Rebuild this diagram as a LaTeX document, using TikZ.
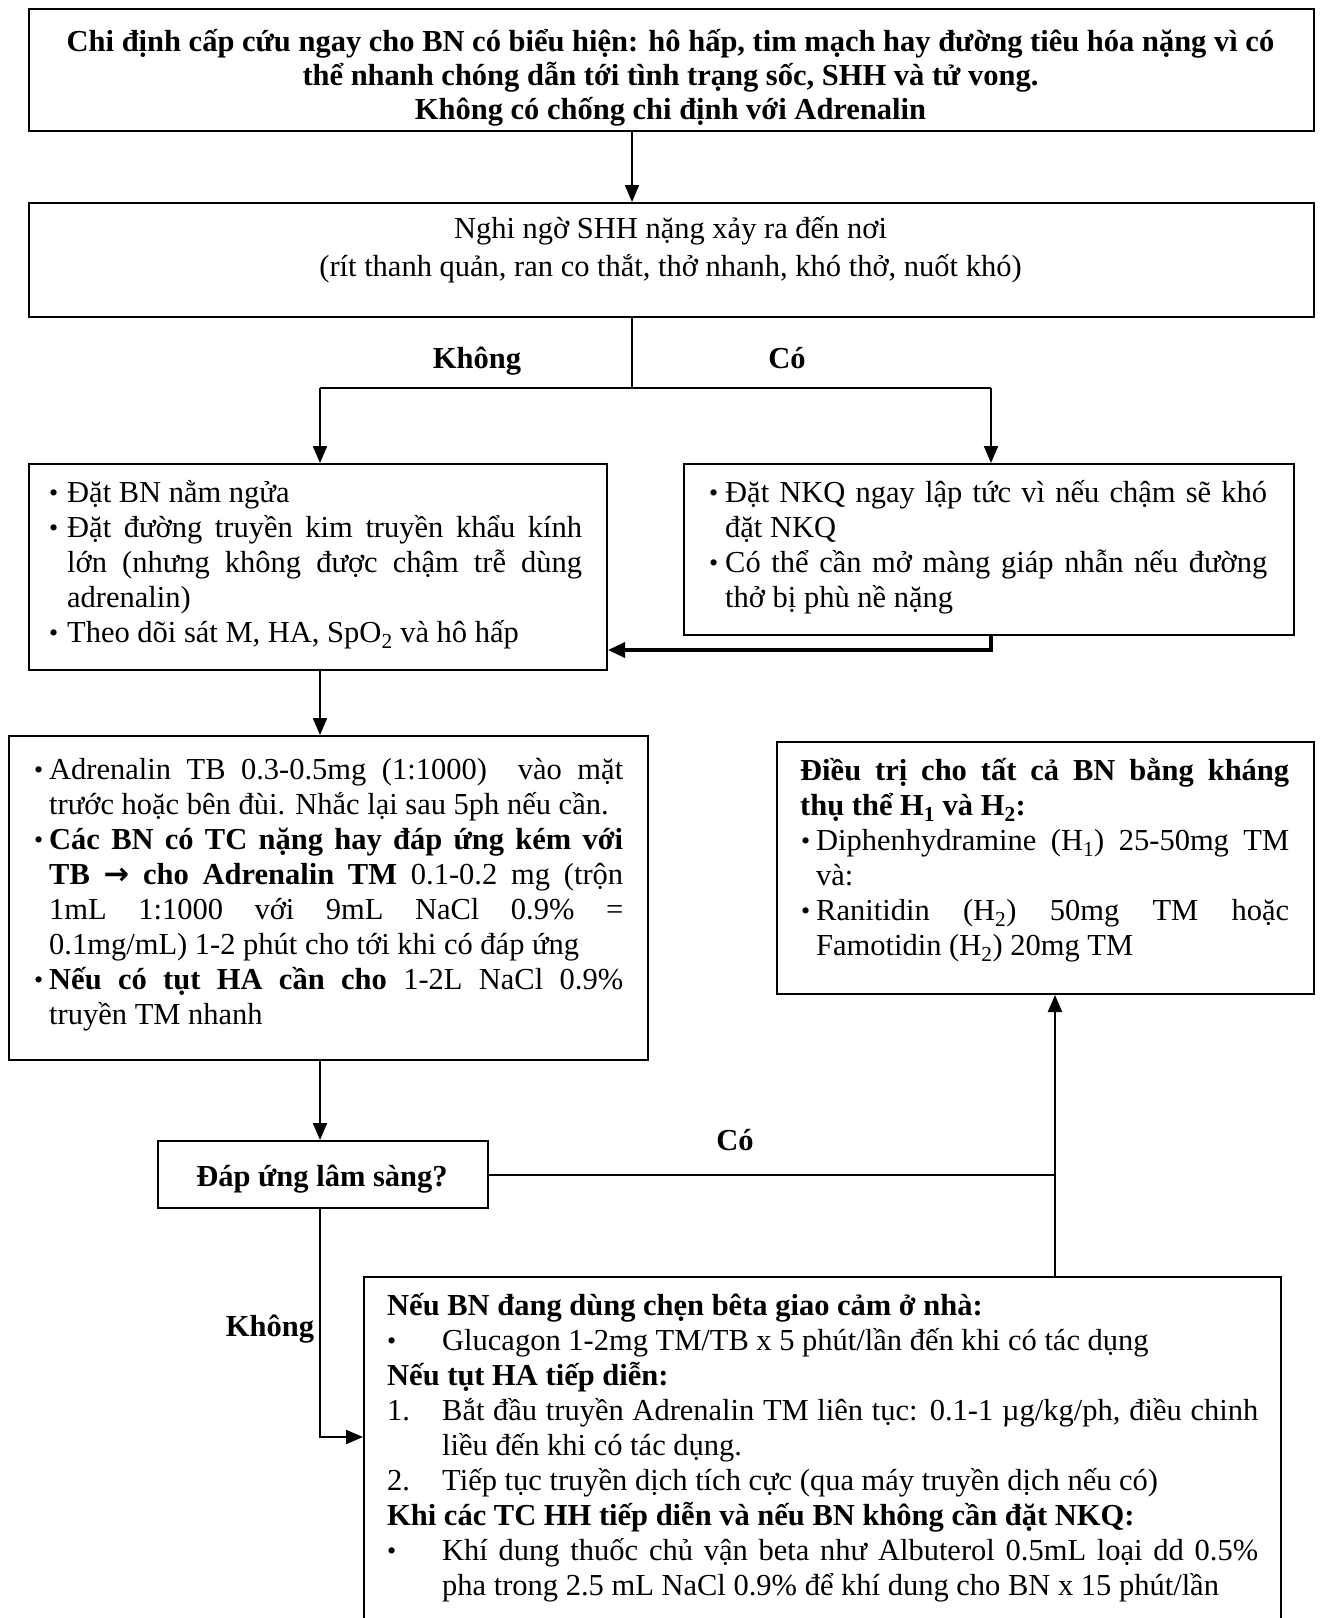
\documentclass[tikz,border=0pt]{standalone}
\usepackage{fontspec}
\setmainfont{Liberation Serif}
\newfontfamily\symfont{DejaVu Sans}
\usetikzlibrary{arrows.meta}

% line layout helpers: every printed line is a box of fixed width
\newlength\tw \newlength\hang \newlength\bind
\newcommand\mkrow[3][s]{\strut\makebox[\hang][l]{\hspace*{\bind}#2}%
  \makebox[\dimexpr\tw-\hang\relax][#1]{\spaceskip=0pt\xspaceskip=0pt\relax#3}}
\newcommand\dotmark{\raisebox{1pt}{\fontsize{26}{26}\selectfont\textbullet}}
\newcommand\rowB[2][s]{\mkrow[#1]{\dotmark}{#2}}
\newcommand\rowN[3][s]{\mkrow[#1]{#2}{#3}}
\newcommand\rowC[2][s]{\mkrow[#1]{}{#2}}
\newcommand\rowH[2][s]{\strut\makebox[\tw][#1]{\spaceskip=0pt\xspaceskip=0pt\relax#2}}

\tikzset{
  box/.style={draw, line width=2pt, inner sep=0pt, anchor=north west},
  txt/.style={inner sep=0pt, anchor=north west, align=left, font={\fontsize{30.5}{35}\selectfont}},
  lay/.style n args={3}{text width=#1, /utils/exec={\setlength\tw{#1}\setlength\hang{#2}\setlength\bind{#3}\parindent=0pt}},
  conn/.style={line width=2pt},
  arr/.style={line width=2pt, -{Triangle[length=17pt,width=14pt]}},
  lbl/.style={inner sep=0pt, anchor=base, font={\fontsize{30.5}{35}\selectfont\bfseries}},
}

\begin{document}
\begin{tikzpicture}[x=1pt, y=-1pt]
\useasboundingbox (0,0) rectangle (1321,1618);
\fill[white] (0,0) rectangle (1321,1618);
\clip (0,0) rectangle (1321,1618);

% frames
\node[box, minimum width=1285pt, minimum height=122pt] (b1) at (28,8) {};
\node[box, minimum width=1285pt, minimum height=114pt] (b2) at (28,202) {};
\node[box, minimum width=578pt, minimum height=206pt] (b3) at (28,463) {};
\node[box, minimum width=610pt, minimum height=171pt] (b4) at (683,463) {};
\node[box, minimum width=639pt, minimum height=324pt] (b5) at (8,735) {};
\node[box, minimum width=537pt, minimum height=252pt] (b6) at (776,741) {};
\node[box, minimum width=330pt, minimum height=67pt] (b7) at (157,1140) {};
\node[box, minimum width=917pt, minimum height=420pt] (b8) at (363,1276) {};

% texts
\node[inner sep=0pt, anchor=north, align=center, font={\fontsize{30.5}{34}\selectfont\bfseries}] (t1) at (670.5,27.2)
  {\strut Chi định cấp cứu ngay cho BN có biểu hiện: hô hấp, tim mạch hay đường tiêu hóa nặng vì có\\
   \strut thể nhanh chóng dẫn tới tình trạng sốc, SHH và tử vong.\\
   \strut Không có chống chi định với Adrenalin};

\node[inner sep=0pt, anchor=north, align=center, font={\fontsize{30.5}{38}\selectfont}] (t2) at (670.5,211.4)
  {\strut Nghi ngờ SHH nặng xảy ra đến nơi\\
   \strut (rít thanh quản, ran co thắt, thở nhanh, khó thở, nuốt khó)};

\node[txt, lay={530pt}{15pt}{-3pt}] (t3) at (52,478) {%
  \rowB[l]{Đặt BN nằm ngửa}\\
  \rowB{Đặt đường truyền kim truyền khẩu kính}\\
  \rowC{lớn (nhưng không được chậm trễ dùng}\\
  \rowC[l]{adrenalin)}\\
  \rowB[l]{Theo dõi sát M, HA, SpO\textsubscript{2} và hô hấp}};

\node[txt, lay={555pt}{13pt}{-3pt}] (t4) at (712,478) {%
  \rowB{Đặt NKQ ngay lập tức vì nếu chậm sẽ khó}\\
  \rowC[l]{đặt NKQ}\\
  \rowB{Có thể cần mở màng giáp nhẫn nếu đường}\\
  \rowC[l]{thở bị phù nề nặng}};

\node[txt, lay={586pt}{12pt}{-3pt}] (t5) at (37,755) {%
  \rowB{Adrenalin TB 0.3-0.5mg (1:1000)\ \ vào mặt}\\
  \rowC[l]{trước hoặc bên đùi. Nhắc lại sau 5ph nếu cần.}\\
  \rowB{\textbf{Các BN có TC nặng hay đáp ứng kém với}}\\
  \rowC{\textbf{TB {\symfont\bfseries →} cho Adrenalin TM} 0.1-0.2 mg (trộn}\\
  \rowC{1mL 1:1000 với 9mL NaCl 0.9\% =}\\
  \rowC[l]{0.1mg/mL) 1-2 phút cho tới khi có đáp ứng}\\
  \rowB{\textbf{Nếu có tụt HA cần cho} 1-2L NaCl 0.9\%}\\
  \rowC[l]{truyền TM nhanh}};

\node[txt, lay={489pt}{16pt}{1pt}] (t6) at (800,756) {%
  \rowH{\textbf{Điều trị cho tất cả BN bằng kháng}}\\
  \rowH[l]{\textbf{thụ thể H\textsubscript{1} và H\textsubscript{2}:}}\\
  \rowB{Diphenhydramine (H\textsubscript{1}) 25-50mg TM}\\
  \rowC[l]{và:}\\
  \rowB{Ranitidin (H\textsubscript{2}) 50mg TM hoặc}\\
  \rowC[l]{Famotidin (H\textsubscript{2}) 20mg TM}};

\node[lbl] (t7) at (322,1186) {Đáp ứng lâm sàng?};

\node[txt, lay={871pt}{55pt}{0pt}] (t8) at (387,1290.5) {%
  \rowH[l]{\textbf{Nếu BN đang dùng chẹn bêta giao cảm ở nhà:}}\\
  \rowB[l]{Glucagon 1-2mg TM/TB x 5 phút/lần đến khi có tác dụng}\\
  \rowH[l]{\textbf{Nếu tụt HA tiếp diễn:}}\\
  \rowN{1.}{Bắt đầu truyền Adrenalin TM liên tục: 0.1-1 µg/kg/ph, điều chinh}\\
  \rowC[l]{liều đến khi có tác dụng.}\\
  \rowN[l]{2.}{Tiếp tục truyền dịch tích cực (qua máy truyền dịch nếu có)}\\
  \rowH[l]{\textbf{Khi các TC HH tiếp diễn và nếu BN không cần đặt NKQ:}}\\
  \rowB{Khí dung thuốc chủ vận beta như Albuterol 0.5mL loại dd 0.5\%}\\
  \rowC[l]{pha trong 2.5 mL NaCl 0.9\% để khí dung cho BN x 15 phút/lần}};

% branch labels
\node[lbl] (lk1) at (477,368) {Không};
\node[lbl] (lc1) at (787,368) {Có};
\node[lbl] (lc2) at (735,1150) {Có};
\node[lbl] (lk2) at (270,1336) {Không};

% junction points
\coordinate (xa) at (632,0);
\coordinate (sp) at (632,388);
\coordinate (sl) at (320,388);
\coordinate (sr) at (991,388);
\coordinate (rt) at (991,650);
\coordinate (cj) at (1055,0);
\coordinate (kd) at (320,1437);

% connectors
\draw[arr] (xa |- b1.south) -- (xa |- b2.north);
\draw[conn] (xa |- b2.south) -- (sp);
\draw[conn] (sl) -- (sr);
\draw[arr] (sl) -- (sl |- b3.north);
\draw[arr] (sr) -- (sr |- b4.north);
\draw[line width=3.5pt, -{Triangle[length=17pt,width=15pt]}] (sr |- b4.south) -- (rt) -- (rt -| b3.east);
\draw[arr] (sl |- b3.south) -- (sl |- b5.north);
\draw[arr] (sl |- b5.south) -- (sl |- b7.north);
\draw[conn] (b7.east) -- (b7.east -| cj);
\draw[arr] (cj |- b8.north) -- (cj |- b6.south);
\draw[arr] (kd |- b7.south) -- (kd) -- (kd -| b8.west);
\end{tikzpicture}
\end{document}
